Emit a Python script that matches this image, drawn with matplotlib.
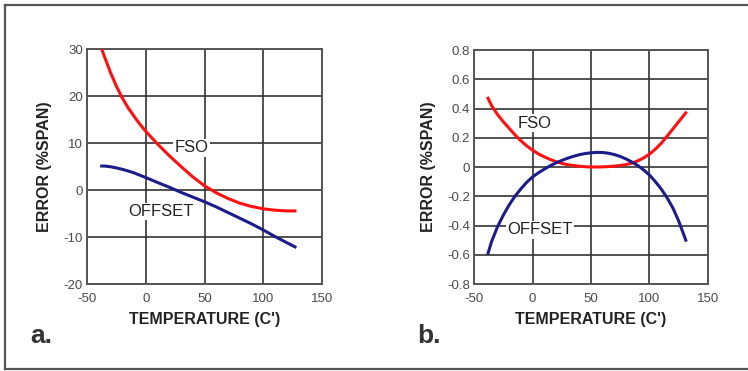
import matplotlib

matplotlib.use("Agg")

import matplotlib.pyplot as plt
from matplotlib.lines import Line2D

plt.rcParams["font.family"] = ["Liberation Sans", "DejaVu Sans"]

# panel a: error (%span) vs temperature
temp_a = [-37.5, -35, -30, -25, -20, -15, -10, -5, 0, 10, 20, 30, 40, 50, 60, 70, 80, 90, 100, 110, 120, 127]
fso_a = [30.0, 28.3, 25.0, 22.1, 19.6, 17.5, 15.7, 14.0, 12.5, 9.8, 7.3, 5.0, 2.8, 0.9,
         -0.6, -1.8, -2.8, -3.5, -4.0, -4.3, -4.45, -4.45]
offset_a = [5.1, 5.1, 4.95, 4.7, 4.4, 4.05, 3.65, 3.15, 2.65, 1.6, 0.6, -0.5, -1.5, -2.5,
            -3.6, -4.8, -6.0, -7.2, -8.5, -9.9, -11.2, -12.1]

# panel b
temp_b = [-38, -35, -30, -25, -20, -15, -10, -5, 0, 5, 10, 15, 20, 25, 30, 35, 40, 45, 50,
          55, 60, 65, 70, 75, 80, 85, 90, 95, 100, 105, 110, 115, 120, 125, 131]
fso_b = [0.47, 0.42, 0.36, 0.31, 0.265, 0.22, 0.18, 0.145, 0.115, 0.09, 0.07, 0.052, 0.037,
         0.025, 0.016, 0.01, 0.005, 0.002, 0.0, 0.0, 0.001, 0.003, 0.006, 0.01, 0.017, 0.027,
         0.042, 0.062, 0.088, 0.122, 0.162, 0.21, 0.26, 0.31, 0.37]
offset_b = [-0.59, -0.51, -0.41, -0.33, -0.26, -0.2, -0.15, -0.105, -0.068, -0.04, -0.015,
            0.008, 0.028, 0.045, 0.06, 0.073, 0.084, 0.092, 0.097, 0.1, 0.099, 0.094, 0.085,
            0.072, 0.055, 0.034, 0.01, -0.02, -0.055, -0.1, -0.15, -0.21, -0.28, -0.37, -0.5]

x_ticks = [-50, 0, 50, 100, 150]
y_ticks_a = [-20, -10, 0, 10, 20, 30]
y_ticks_b = [-0.8, -0.6, -0.4, -0.2, 0, 0.2, 0.4, 0.6, 0.8]
y_labels_b = ["-0.8", "-0.6", "-0.4", "-0.2", "0", "0.2", "0.4", "0.6", "0.8"]

RED = "#ff1010"
BLUE = "#1c1c8a"
GRID = "#333333"


def style_axes(ax, yticks, ylabels, ylim):
    ax.set_xlim(-50, 150)
    ax.set_ylim(*ylim)
    ax.set_xticks(x_ticks)
    ax.set_xticklabels([str(t) for t in x_ticks])
    ax.set_yticks(yticks)
    ax.set_yticklabels(ylabels)
    ax.tick_params(length=0, labelsize=9.5, colors="#4a4a4a")
    ax.tick_params(axis="x", pad=6.5)
    ax.tick_params(axis="y", pad=3)
    ax.grid(True, color=GRID, linewidth=1.2)
    ax.set_axisbelow(True)
    for spine in ax.spines.values():
        spine.set_color("#555555")
        spine.set_linewidth(1.4)
    ax.set_xlabel("TEMPERATURE (C')", fontsize=11.5, fontweight="bold", color="#222222", labelpad=5)
    ax.set_ylabel("ERROR (%SPAN)", fontsize=11.5, fontweight="bold", color="#222222", labelpad=8)


fig = plt.figure(figsize=(7.48, 3.71), dpi=100)

box = dict(facecolor="white", edgecolor="none", pad=1)

ax_a = fig.add_axes([0.1163, 0.2345, 0.3142, 0.6334])
ax_a.plot(temp_a, fso_a, color=RED, linewidth=2.2, zorder=3)
ax_a.plot(temp_a, offset_a, color=BLUE, linewidth=2.2, zorder=3)
style_axes(ax_a, y_ticks_a, [str(t) for t in y_ticks_a], (-20, 30))
ax_a.text(39, 9, "FSO", fontsize=12, color="#222222", ha="center", va="center", bbox=box, zorder=4)
ax_a.text(13, -4.6, "OFFSET", fontsize=12, color="#222222", ha="center", va="center", bbox=box, zorder=4)

ax_b = fig.add_axes([0.6337, 0.2345, 0.3128, 0.6307])
ax_b.plot(temp_b, fso_b, color=RED, linewidth=2.2, zorder=3)
ax_b.plot(temp_b, offset_b, color=BLUE, linewidth=2.2, zorder=3)
style_axes(ax_b, y_ticks_b, y_labels_b, (-0.8, 0.8))
ax_b.text(2, 0.3, "FSO", fontsize=12, color="#222222", ha="center", va="center", bbox=box, zorder=4)
ax_b.text(6.5, -0.43, "OFFSET", fontsize=12, color="#222222", ha="center", va="center", bbox=box, zorder=4)

fig.text(30 / 748, 1 - 343 / 371, "a.", fontsize=19, fontweight="bold", color="#333333", va="baseline")
fig.text(417 / 748, 1 - 343 / 371, "b.", fontsize=19, fontweight="bold", color="#333333", va="baseline")

# frame around the figure (left, top, bottom only)
frame = dict(color="#555555", linewidth=1.6, transform=fig.transFigure)
fig.add_artist(Line2D([4.5 / 748, 4.5 / 748], [1 - 5 / 371, 1 - 368.5 / 371], **frame))
fig.add_artist(Line2D([4.5 / 748, 1], [1 - 5 / 371, 1 - 5 / 371], **frame))
fig.add_artist(Line2D([4.5 / 748, 1], [1 - 368.5 / 371, 1 - 368.5 / 371], **frame))

fig.savefig("out.png", dpi=100)
